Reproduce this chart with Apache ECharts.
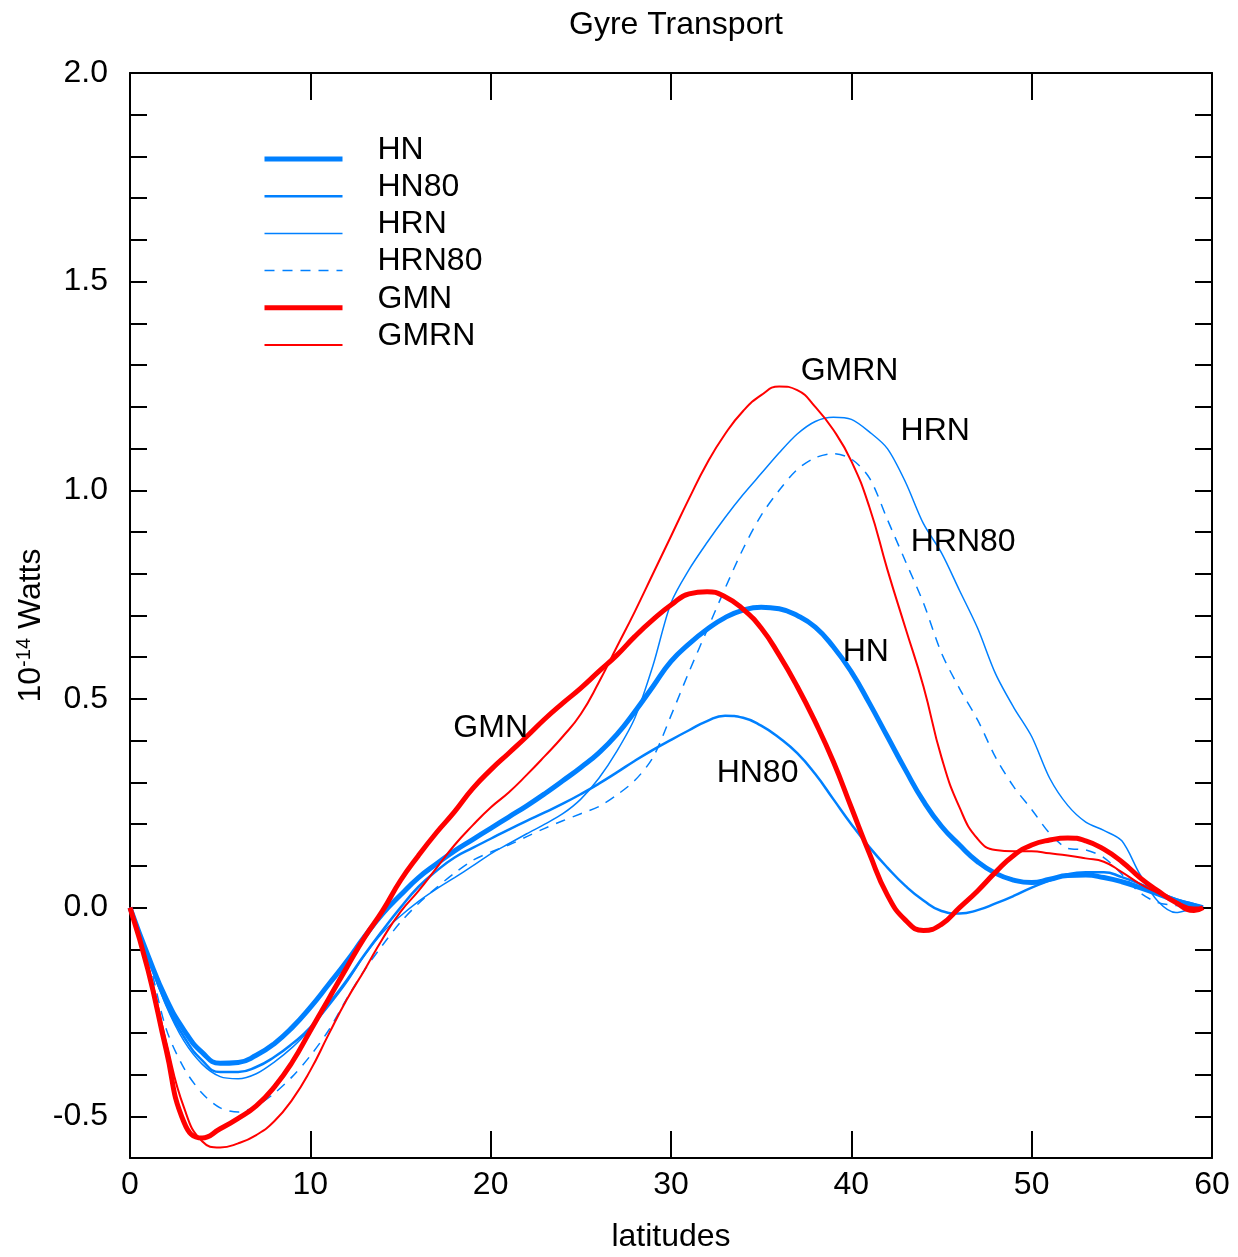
<!DOCTYPE html>
<html>
<head>
<meta charset="utf-8">
<script src="https://cdn.jsdelivr.net/npm/echarts@6/dist/echarts.min.js"></script>
<style>
html,body{margin:0;padding:0;background:#fff;}
#main{width:1238px;height:1257px;}
</style>
</head>
<body>
<div id="main"></div>
<script>
// Latitudes (x values)
const latitudes = [0,1,2,3,4,5,6,7,8,9,10,11,12,13,14,15,16,17,18,19,20,21,22,23,24,25,26,27,28,29,30,31,32,33,34,35,36,37,38,39,40,41,42,43,44,45,46,47,48,49,50,51,52,53,54,55,56,57,58,59,59.5];

const HN = [0,-0.115,-0.218,-0.294,-0.347,-0.373,-0.371,-0.354,-0.326,-0.287,-0.239,-0.185,-0.13,-0.07,-0.015,0.03,0.072,0.105,0.136,0.163,0.19,0.217,0.244,0.273,0.304,0.336,0.371,0.415,0.47,0.53,0.59,0.632,0.667,0.695,0.713,0.72,0.716,0.7,0.672,0.625,0.565,0.49,0.41,0.33,0.255,0.195,0.15,0.11,0.082,0.066,0.06,0.068,0.077,0.078,0.072,0.062,0.048,0.033,0.017,0.005,0];

const HN80 = [0,-0.12,-0.23,-0.31,-0.366,-0.394,-0.394,-0.382,-0.358,-0.326,-0.287,-0.232,-0.175,-0.113,-0.055,0.0,0.05,0.088,0.12,0.143,0.165,0.187,0.208,0.228,0.249,0.272,0.297,0.324,0.352,0.378,0.402,0.425,0.447,0.46,0.455,0.436,0.407,0.37,0.32,0.26,0.2,0.145,0.096,0.052,0.017,-0.008,-0.014,-0.006,0.01,0.028,0.048,0.065,0.08,0.085,0.085,0.073,0.057,0.038,0.02,0.008,0];

const HRN = [0,-0.12,-0.235,-0.32,-0.375,-0.405,-0.41,-0.398,-0.37,-0.335,-0.29,-0.237,-0.18,-0.115,-0.06,-0.02,0.015,0.045,0.072,0.1,0.129,0.153,0.177,0.2,0.225,0.26,0.31,0.375,0.455,0.58,0.73,0.81,0.875,0.935,0.99,1.04,1.09,1.135,1.165,1.175,1.17,1.14,1.1,1.02,0.92,0.85,0.76,0.67,0.56,0.48,0.41,0.31,0.245,0.205,0.185,0.16,0.08,0.015,-0.012,-0.002,0];

const HRN80 = [0,-0.12,-0.29,-0.385,-0.445,-0.48,-0.49,-0.475,-0.445,-0.405,-0.355,-0.295,-0.22,-0.15,-0.09,-0.035,0.01,0.048,0.083,0.113,0.133,0.15,0.17,0.19,0.208,0.225,0.242,0.27,0.305,0.36,0.46,0.565,0.665,0.765,0.86,0.94,1.0,1.05,1.078,1.088,1.075,1.03,0.93,0.83,0.73,0.61,0.525,0.45,0.36,0.29,0.235,0.178,0.142,0.138,0.12,0.08,0.036,0.012,0.005,0.002,0];

const GMN = [0,-0.15,-0.34,-0.515,-0.552,-0.53,-0.505,-0.475,-0.43,-0.37,-0.295,-0.22,-0.145,-0.072,-0.008,0.065,0.125,0.18,0.23,0.285,0.33,0.37,0.41,0.452,0.49,0.526,0.566,0.605,0.65,0.69,0.725,0.752,0.757,0.745,0.715,0.67,0.605,0.53,0.445,0.35,0.24,0.13,0.03,-0.03,-0.055,-0.04,0.0,0.04,0.085,0.125,0.15,0.162,0.167,0.16,0.14,0.11,0.072,0.04,0.012,-0.007,0];

const GMRN = [0,-0.14,-0.32,-0.48,-0.56,-0.575,-0.565,-0.545,-0.512,-0.46,-0.39,-0.305,-0.222,-0.15,-0.075,-0.01,0.04,0.095,0.15,0.197,0.24,0.276,0.318,0.363,0.41,0.464,0.54,0.625,0.71,0.8,0.89,0.98,1.065,1.135,1.19,1.228,1.249,1.24,1.2,1.145,1.07,0.96,0.81,0.67,0.53,0.36,0.24,0.165,0.138,0.135,0.135,0.13,0.125,0.118,0.11,0.085,0.057,0.035,0.015,0.0,0];

// Series names and in-plot annotation positions (data units)
const seriesNames = ['HN','HN80','HRN','HRN80','GMN','GMRN'];
const labelLat = [40.8, 34.8, 44.65, 46.2, 20.0, 39.9];
const labelVal = [0.612, 0.321, 1.141, 0.876, 0.431, 1.285];

const xTicks = [0,10,20,30,40,50,60];

const BLUE = '#0080ff';
const RED = '#ff0000';
const FONT = 'Liberation Sans, Arial, sans-serif';
const FS = 32;

const values = [HN, HN80, HRN, HRN80, GMN, GMRN];
const styles = [
  {color: BLUE, width: 5, type: 'solid', smooth: 0.5},
  {color: BLUE, width: 2.5, type: 'solid', smooth: 0.5},
  {color: BLUE, width: 1.5, type: 'solid', smooth: 0.3},
  {color: BLUE, width: 1.5, type: [10, 8], smooth: 0.3},
  {color: RED, width: 5, type: 'solid', smooth: 0.5},
  {color: RED, width: 2, type: 'solid', smooth: 0.5}
];

function pairs(ys){ return latitudes.map((x,i)=>[x, ys[i]]); }

const series = seriesNames.map((name, i) => ({
  name: name,
  type: 'line',
  data: pairs(values[i]),
  symbol: 'none',
  showSymbol: false,
  smooth: styles[i].smooth,
  color: styles[i].color,
  lineStyle: {color: styles[i].color, width: styles[i].width, type: styles[i].type},
  emphasis: {disabled: true},
  markPoint: {
    silent: true,
    symbol: 'circle',
    symbolSize: 0,
    label: {show: true, position: 'inside', formatter: name, color: '#000', fontSize: FS, fontFamily: FONT},
    data: [{coord: [labelLat[i], labelVal[i]]}]
  }
}));

const legendData = seriesNames.map((name, i) => ({
  name: name,
  itemStyle: {opacity: 0},
  lineStyle: {color: styles[i].color, width: styles[i].width, type: styles[i].type, opacity: 1}
}));

const axisCommon = {
  type: 'value',
  axisLine: {show: true, onZero: false, lineStyle: {color: '#000', width: 2}},
  splitLine: {show: false}
};

const chart = echarts.init(document.getElementById('main'), null, {renderer: 'canvas'});
chart.setOption({
  animation: false,
  backgroundColor: '#fff',
  textStyle: {fontFamily: FONT},
  title: {
    text: 'Gyre Transport',
    left: 671, top: 4, textAlign: 'center',
    textStyle: {fontSize: FS, fontWeight: 'normal', color: '#000', fontFamily: FONT}
  },
  grid: {left: 130, right: 26, top: 73, bottom: 99, containLabel: false, outerBoundsMode: 'none'},
  legend: {
    show: true,
    orient: 'vertical',
    left: 257, top: 129,
    itemWidth: 78, itemHeight: 14, itemGap: -12.8,
    selectedMode: false,
    data: legendData,
    formatter: name => name + '\n ',
    textStyle: {fontSize: FS, color: '#000', fontFamily: FONT, lineHeight: 18, padding: [0, 0, 0, 30]}
  },
  xAxis: [
    Object.assign({}, axisCommon, {
      min: 0, max: 60, interval: 10, position: 'bottom',
      axisTick: {show: true, inside: true, length: 27, lineStyle: {color: '#000', width: 2}},
      axisLabel: {show: true, fontSize: FS, color: '#000', margin: 11, fontFamily: FONT,
        formatter: v => xTicks.indexOf(Math.round(v)) >= 0 ? String(Math.round(v)) : ''},
      name: 'latitudes', nameLocation: 'middle', nameGap: 63, nameMoveOverlap: false,
      nameTextStyle: {fontSize: FS, color: '#000', fontFamily: FONT}
    }),
    Object.assign({}, axisCommon, {
      min: 0, max: 60, interval: 10, position: 'top',
      axisTick: {show: true, inside: true, length: 27, lineStyle: {color: '#000', width: 2}},
      axisLabel: {show: false}
    })
  ],
  yAxis: [
    Object.assign({}, axisCommon, {
      min: -0.6, max: 2.0, interval: 0.1, position: 'left',
      axisTick: {show: true, inside: true, length: 17, lineStyle: {color: '#000', width: 2}},
      axisLabel: {show: true, fontSize: FS, color: '#000', margin: 22, fontFamily: FONT,
        formatter: v => { const r = Math.round(v * 10); return (r % 5 === 0) ? (r / 10).toFixed(1) : ''; }},
      name: '10{sup|-14} Watts', nameLocation: 'middle', nameGap: 82, nameMoveOverlap: false,
      nameTextStyle: {fontSize: FS, color: '#000', fontFamily: FONT, padding: [0, 20, 0, 0],
        rich: {sup: {fontSize: 20, color: '#000', fontFamily: FONT, verticalAlign: 'top', padding: [0, 0, 14, 0]}}}
    }),
    Object.assign({}, axisCommon, {
      min: -0.6, max: 2.0, interval: 0.1, position: 'right',
      axisTick: {show: true, inside: true, length: 17, lineStyle: {color: '#000', width: 2}},
      axisLabel: {show: false}
    })
  ],
  series: series
});
</script>
</body>
</html>
